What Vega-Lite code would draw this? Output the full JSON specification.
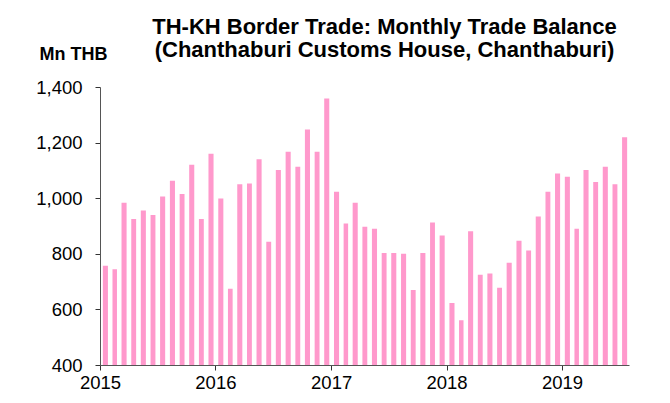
{
  "$schema": "https://vega.github.io/schema/vega-lite/v6.json",
  "autosize": "none",
  "width": 529,
  "height": 278,
  "padding": {"left": 100, "top": 87, "right": 41, "bottom": 38},
  "background": "white",
  "title": {
    "text": ["TH-KH Border Trade: Monthly Trade Balance", "(Chanthaburi Customs House, Chanthaburi)"],
    "font": "Liberation Sans",
    "fontSize": 22,
    "fontWeight": "bold",
    "color": "black",
    "anchor": "middle",
    "dx": 20,
    "dy": 48,
    "offset": 31,
    "lineHeight": 23
  },
  "data": {
    "values": [
      {"date": "2015-01-15", "value": 757},
      {"date": "2015-02-15", "value": 744},
      {"date": "2015-03-15", "value": 984},
      {"date": "2015-04-15", "value": 925},
      {"date": "2015-05-15", "value": 956},
      {"date": "2015-06-15", "value": 940},
      {"date": "2015-07-15", "value": 1006},
      {"date": "2015-08-15", "value": 1063},
      {"date": "2015-09-15", "value": 1015},
      {"date": "2015-10-15", "value": 1120},
      {"date": "2015-11-15", "value": 925},
      {"date": "2015-12-15", "value": 1160},
      {"date": "2016-01-15", "value": 999},
      {"date": "2016-02-15", "value": 674},
      {"date": "2016-03-15", "value": 1050},
      {"date": "2016-04-15", "value": 1053},
      {"date": "2016-05-15", "value": 1140},
      {"date": "2016-06-15", "value": 843},
      {"date": "2016-07-15", "value": 1101},
      {"date": "2016-08-15", "value": 1167},
      {"date": "2016-09-15", "value": 1113},
      {"date": "2016-10-15", "value": 1247},
      {"date": "2016-11-15", "value": 1167},
      {"date": "2016-12-15", "value": 1359},
      {"date": "2017-01-15", "value": 1023},
      {"date": "2017-02-15", "value": 909},
      {"date": "2017-03-15", "value": 984},
      {"date": "2017-04-15", "value": 897},
      {"date": "2017-05-15", "value": 890},
      {"date": "2017-06-15", "value": 803},
      {"date": "2017-07-15", "value": 803},
      {"date": "2017-08-15", "value": 800},
      {"date": "2017-09-15", "value": 670},
      {"date": "2017-10-15", "value": 803},
      {"date": "2017-11-15", "value": 913},
      {"date": "2017-12-15", "value": 866},
      {"date": "2018-01-15", "value": 623},
      {"date": "2018-02-15", "value": 561},
      {"date": "2018-03-15", "value": 881},
      {"date": "2018-04-15", "value": 725},
      {"date": "2018-05-15", "value": 729},
      {"date": "2018-06-15", "value": 678},
      {"date": "2018-07-15", "value": 768},
      {"date": "2018-08-15", "value": 847},
      {"date": "2018-09-15", "value": 812},
      {"date": "2018-10-15", "value": 934},
      {"date": "2018-11-15", "value": 1023},
      {"date": "2018-12-15", "value": 1089},
      {"date": "2019-01-15", "value": 1077},
      {"date": "2019-02-15", "value": 890},
      {"date": "2019-03-15", "value": 1101},
      {"date": "2019-04-15", "value": 1058},
      {"date": "2019-05-15", "value": 1113},
      {"date": "2019-06-15", "value": 1050},
      {"date": "2019-07-15", "value": 1219}
    ]
  },
  "mark": {"type": "bar", "color": "#ff99cc", "clip": true, "width": {"band": 0.62}},
  "encoding": {
    "x": {
      "field": "date",
      "type": "temporal",
      "timeUnit": "yearmonth",
      "scale": {"domain": [{"year": 2015, "month": 1, "date": 1}, {"year": 2019, "month": 8, "date": 1}], "nice": false},
      "axis": {
        "title": null,
        "format": "%Y",
        "tickCount": {"interval": "year", "step": 1},
        "grid": false,
        "domainColor": "#555555",
        "tickColor": "#333333",
        "tickSize": 5,
        "labelFont": "Liberation Sans",
        "labelFontSize": 18.5,
        "labelColor": "black",
        "labelPadding": 3,
        "labelFlush": false,
        "labelAlign": "center"
      }
    },
    "y": {
      "field": "value",
      "type": "quantitative",
      "scale": {"domain": [400, 1400], "nice": false, "zero": false},
      "axis": {
        "title": "Mn THB",
        "titleAngle": 0,
        "titleX": -27,
        "titleY": -33,
        "titleAlign": "center",
        "titleBaseline": "middle",
        "titleFont": "Liberation Sans",
        "titleFontSize": 18,
        "titleFontWeight": "bold",
        "titleColor": "black",
        "values": [400, 600, 800, 1000, 1200, 1400],
        "format": ",.0f",
        "grid": false,
        "domainColor": "#555555",
        "tickColor": "#333333",
        "tickSize": 5,
        "labelFont": "Liberation Sans",
        "labelFontSize": 18.5,
        "labelColor": "black",
        "labelPadding": 13
      }
    }
  },
  "config": {"view": {"stroke": null}}
}
